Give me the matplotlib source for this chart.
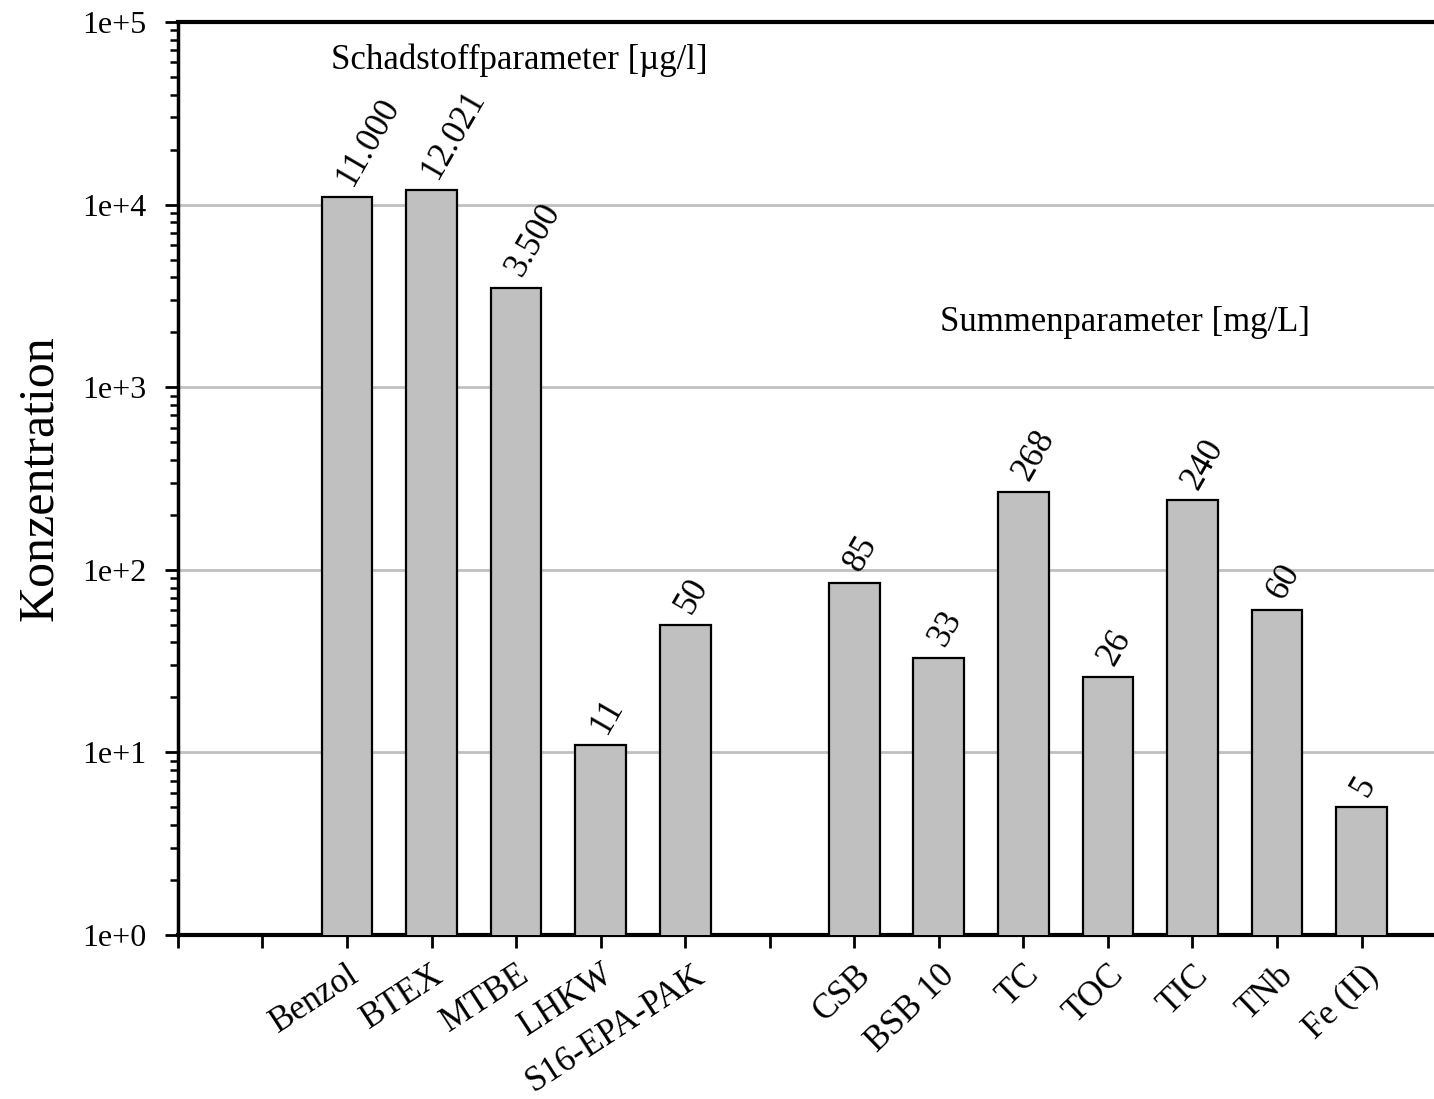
import numpy as np
import matplotlib
matplotlib.use("Agg")
import matplotlib.pyplot as plt
from matplotlib.transforms import ScaledTranslation
from matplotlib.ticker import FixedLocator, FuncFormatter, LogLocator, NullFormatter

# -----------------------
# Data
# -----------------------
schad_names = ['Benzol', 'BTEX', 'MTBE', 'LHKW', 'S16-EPA-PAK']
schad_values = [11000, 12021, 3500, 11, 50]
schad_labels = ['11.000', '12.021', '3.500', '11', '50']

summen_names = ['CSB', 'BSB 10', 'TC', 'TOC', 'TIC', 'TNb', 'Fe (II)']
summen_values = [85, 33, 268, 26, 240, 60, 5]
summen_labels = ['85', '33', '268', '26', '240', '60', '5']

# slot positions: empty slot 1, group 1 at 2..6, empty slot 7, group 2 at 8..14
schad_pos = [2, 3, 4, 5, 6]
summen_pos = [8, 9, 10, 11, 12, 13, 14]

plt.rcParams['font.family'] = ['Liberation Serif', 'DejaVu Serif']

fig = plt.figure(figsize=(14.34, 10.99), dpi=100)
ax = fig.add_axes([0.1241, 0.1492, 0.8843, 0.8308])

bar_kw = dict(width=0.6, color='#c0c0c0', edgecolor='black', linewidth=1.6, zorder=3)
pos = schad_pos + summen_pos
vals = schad_values + summen_values
labels = schad_labels + summen_labels
ax.bar(pos, vals, **bar_kw)

ax.set_yscale('log')
ax.set_ylim(1, 1e5)
ax.set_xlim(0, 15)

# value labels above bars
for x, v, lab in zip(pos, vals, labels):
    ax.annotate(lab, xy=(x, v), xytext=(-1.5, 10), textcoords='offset points',
                rotation=60, rotation_mode='anchor', ha='left', va='center',
                fontsize=25)

# y axis
ax.yaxis.set_major_locator(FixedLocator([1, 10, 100, 1000, 10000, 100000]))
ax.yaxis.set_major_formatter(FuncFormatter(lambda v, p: '1e+%d' % round(np.log10(v))))
ax.yaxis.set_minor_locator(LogLocator(base=10, subs=np.arange(2, 10), numticks=20))
ax.yaxis.set_minor_formatter(NullFormatter())
ax.tick_params(axis='y', which='major', direction='out', length=9.4, width=2, labelsize=23, pad=13)
ax.tick_params(axis='y', which='minor', direction='out', length=5.8, width=1.8)
ax.set_ylabel('Konzentration', fontsize=36, labelpad=14)

# x axis: ticks in every slot, labels only under bars
ax.set_xticks(range(0, 15))
tick_text = [''] * 15
for p, n in zip(schad_pos + summen_pos, schad_names + summen_names):
    tick_text[p] = n
ax.set_xticklabels(tick_text, rotation=33, rotation_mode='anchor', ha='right', va='top')
ax.tick_params(axis='x', which='major', direction='out', length=9, width=2, labelsize=25, pad=8)

for lab in ax.get_xticklabels():
    if lab.get_text() in summen_names:
        # second group is tilted more steeply
        lab.set_rotation(44)
    if lab.get_text() == 'S16-EPA-PAK':
        lab.set_transform(lab.get_transform() + ScaledTranslation(0.08, 0, fig.dpi_scale_trans))

ax.grid(True, axis='y', which='major', color='#c0c0c0', linewidth=2, zorder=0)
ax.set_axisbelow(True)

ax.spines['left'].set_linewidth(2.5)
ax.spines['bottom'].set_linewidth(3)
ax.spines['top'].set_linewidth(3)
ax.spines['right'].set_visible(False)

# group captions
ax.text(4.04, 6.2e4, 'Schadstoffparameter [µg/l]', fontsize=25, ha='center', va='center')
ax.text(11.2, 2250, 'Summenparameter [mg/L]', fontsize=25, ha='center', va='center')

fig.savefig('out.png', dpi=100)
